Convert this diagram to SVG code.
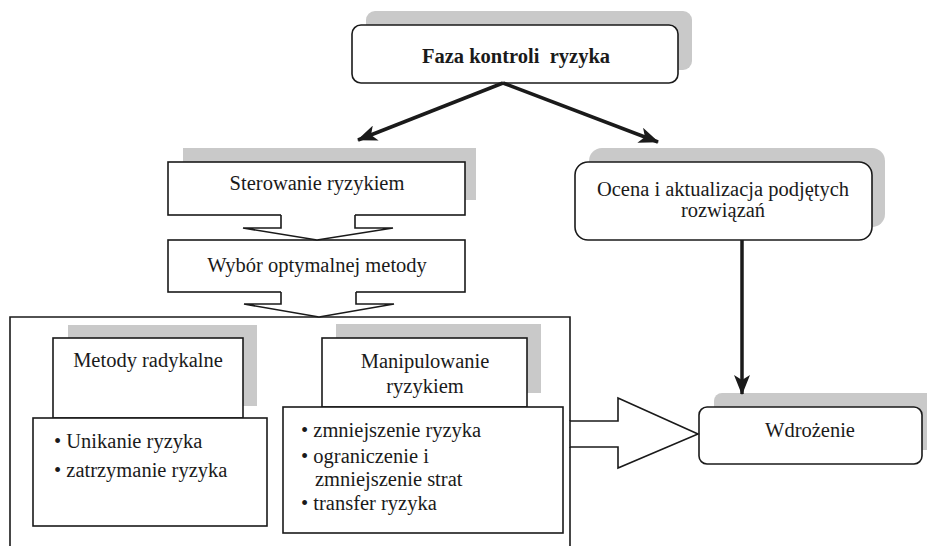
<svg xmlns="http://www.w3.org/2000/svg" width="927" height="546" viewBox="0 0 927 546">
<style>
.sh{fill:#c9c9c9;stroke:none}
.bx{fill:#fff;stroke:#1a1a1a;stroke-width:1.6}
.t{font-family:"Liberation Serif","Times New Roman",serif;font-size:20.5px;fill:#1a1a1a}
.c{text-anchor:middle}
.b{font-weight:bold;white-space:pre}
.ln{stroke:#1a1a1a;stroke-width:3.5;fill:none}
.ol{fill:none;stroke:#1a1a1a;stroke-width:1.6}
</style>
<defs>
<marker id="ah" markerUnits="userSpaceOnUse" markerWidth="20" markerHeight="16" refX="19" refY="8" orient="auto">
<path d="M0,0 L20,8 L0,16 L5,8 z" fill="#1a1a1a"/>
</marker>
</defs>
<rect width="927" height="546" fill="#fff"/>

<g id="container">
<path class="ol" d="M570,421 V317 H10 V546 M570,447 V546"/>
</g>

<g id="faza">
<rect class="sh" x="366" y="11" width="326" height="59" rx="9"/>
<rect class="bx" x="352" y="25" width="326" height="58" rx="9"/>
<text class="t c b" x="516" y="63" xml:space="preserve">Faza kontroli  ryzyka</text>
</g>

<g id="sterowanie">
<rect class="sh" x="183" y="148" width="293" height="52"/>
<rect class="bx" x="168" y="162" width="297" height="53"/>
<text class="t c" x="317" y="190">Sterowanie ryzykiem</text>
</g>

<g id="wybor">
<rect class="bx" x="168" y="240" width="297" height="52"/>
<text class="t c" x="317" y="272">Wybór optymalnej metody</text>
</g>

<g id="ocena">
<rect class="sh" x="589" y="148" width="296" height="79" rx="13"/>
<rect class="bx" x="575" y="162" width="297" height="78" rx="13"/>
<text class="t c" x="723" y="196">Ocena i aktualizacja podjętych</text>
<text class="t c" x="723" y="217">rozwiązań</text>
</g>

<g id="metody">
<rect class="sh" x="68" y="325" width="189" height="81"/>
<rect class="bx" x="53" y="338" width="190" height="80"/>
<text class="t c" x="148" y="367">Metody radykalne</text>
</g>

<g id="metody-lista">
<rect class="bx" x="33" y="418" width="234" height="108"/>
<text class="t" x="54" y="448">• Unikanie ryzyka</text>
<text class="t" x="54" y="477">• zatrzymanie ryzyka</text>
</g>

<g id="manipulowanie">
<rect class="sh" x="336" y="324" width="205" height="69"/>
<rect class="bx" x="322" y="338" width="205" height="69"/>
<text class="t c" x="425" y="368">Manipulowanie</text>
<text class="t c" x="425" y="393">ryzykiem</text>
</g>

<g id="manipulowanie-lista">
<rect class="bx" x="283" y="407" width="280" height="126"/>
<text class="t" x="301" y="437">• zmniejszenie ryzyka</text>
<text class="t" x="301" y="463">• ograniczenie i</text>
<text class="t" x="315" y="486">zmniejszenie strat</text>
<text class="t" x="301" y="510">• transfer ryzyka</text>
</g>

<g id="wdrozenie">
<rect class="sh" x="714" y="393" width="230" height="57" rx="8"/>
<rect class="bx" x="699" y="407" width="223" height="57" rx="8"/>
<text class="t c" x="810" y="437">Wdrożenie</text>
</g>

<g id="connectors">
<line class="ln" x1="503" y1="83" x2="358" y2="140" marker-end="url(#ah)"/>
<line class="ln" x1="503" y1="83" x2="658" y2="142" marker-end="url(#ah)"/>
<line class="ln" x1="742" y1="240" x2="742" y2="394" marker-end="url(#ah)"/>
<polygon points="281,213 281,228 243,228 317,240 393,228 355,228 355,213" fill="#fff"/>
<polyline class="ol" points="281,215 281,228 243,228 317,240 393,228 355,228 355,215"/>
<polygon points="281,290 281,304 244,304 319,317 394,304 356,304 356,290" fill="#fff"/>
<polyline class="ol" points="281,292 281,304 244,304 319,317 394,304 356,304 356,292"/>
<polygon class="ol" style="fill:#fff" points="570,421 618,421 618,398 698,434 618,468 618,447 570,447"/>
</g>
</svg>
